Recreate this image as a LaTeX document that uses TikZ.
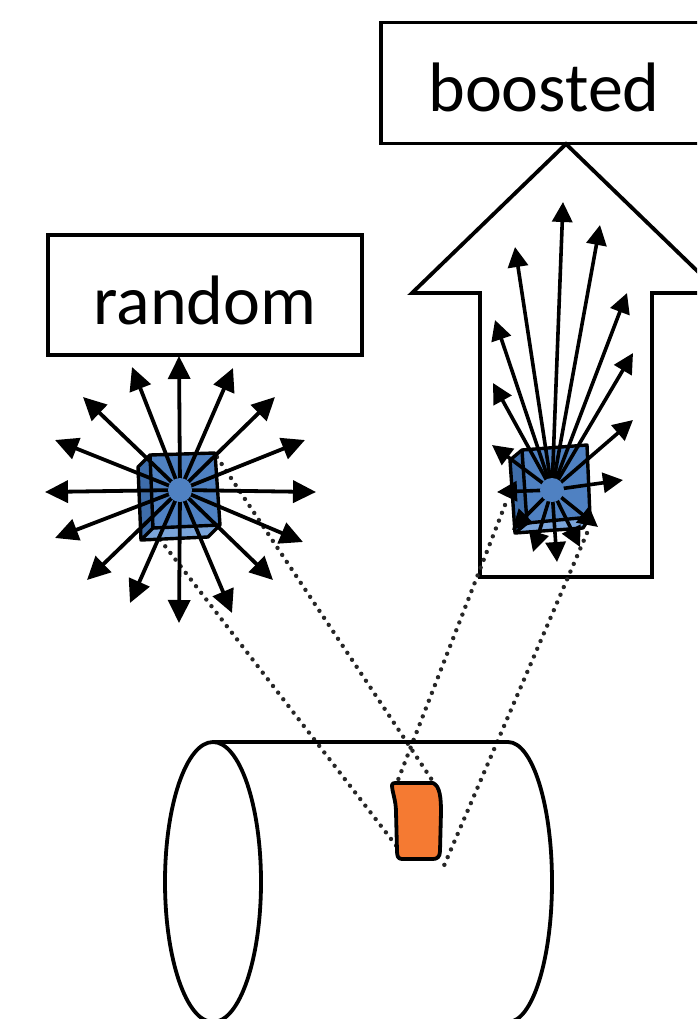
\documentclass[tikz,border=0pt]{standalone}
\usepackage{fontspec}
\setmainfont{Carlito}
\usetikzlibrary{arrows.meta}
\definecolor{facefront}{HTML}{4F81C2}
\definecolor{faceside}{HTML}{3E6DAA}
\definecolor{facebottom}{HTML}{7BA5DA}
\definecolor{patchorange}{HTML}{F57A32}
\begin{document}
\begin{tikzpicture}[x=1pt,y=-1pt,
  outline/.style={draw=black,line width=3.8pt,line join=miter},
  label box/.style={outline,rectangle,inner sep=0pt,fill=white,
    font=\fontsize{70}{80}\selectfont,text height=58pt,text depth=0pt},
  ray/.style={line width=3.8pt,-{Triangle[length=23pt,width=22pt]}},
  fanray/.style={line width=3.6pt,-{Triangle[length=20pt,width=20pt]}},
  cubeedge/.style={draw=black,line width=3.4pt,line join=round},
  sight/.style={line width=4.4pt,line cap=round,dash pattern=on 0pt off 8.4pt,black!85},
]
\useasboundingbox (0,0) rectangle (697,1019);
\clip (0,0) rectangle (697,1019);

% ---- labels ----
\node[label box,minimum width=314pt,minimum height=120pt] (random) at (205,295) {random};
\node[label box,minimum width=326pt,minimum height=121pt] (boosted) at (544,83) {boosted};

% ---- block arrow around the boosted emission ----
\coordinate (tip) at (566,144);
\draw[outline] (tip) -- (412,293) -- (480,293) -- (480,577) -- (652,577)
  -- (652,293) -- (720,293) -- cycle;

% ---- key points ----
\coordinate (rc) at (180,490);   % random source centre
\coordinate (bc) at (552,490);   % boosted source centre
\coordinate (rA) at (155,533);
\coordinate (rB) at (217,457);
\coordinate (bA) at (505,505);
\coordinate (bB) at (587,533);
\coordinate (pTL) at (398,780);
\coordinate (pTR) at (434,783);
\coordinate (pBL) at (398,848);
\coordinate (pBR) at (443,868);

% ---- lines of sight to the detector patch ----
\draw[sight] (rA) -- (pBL);
\draw[sight] (rB) -- (pTR);
\draw[sight] (bA) -- (pTL);
\draw[sight] (bB) -- (pBR);

% ---- random source: cube ----
\fill[facefront] (150,455) -- (215,453) -- (220,525) -- (153,528) -- cycle;
\fill[faceside] (150,455) -- (153,528) -- (141,540) -- (138,467) -- cycle;
\fill[facebottom] (153,528) -- (220,525) -- (208,537) -- (141,540) -- cycle;
\draw[cubeedge] (138,467) -- (150,455) -- (215,453) -- (220,525) -- (208,537)
  -- (141,540) -- cycle;
\draw[cubeedge] (150,455) -- (153,528) -- (220,525);
\draw[cubeedge] (153,528) -- (141,540);

% ---- random source: isotropic emission ----
\foreach \i/\x/\y in {1/179/356,2/233/368,3/275/397,4/305/440,5/316/492,
  6/303/542,7/273/580,8/232/613,9/179/623,10/130/603,11/87/580,12/55/538,
  13/45/492,14/55/440,15/83/397,16/132/367}{
  \coordinate (r\i) at (\x,\y);
  \draw[ray] (rc) -- (r\i);
}
\fill[facefront] (rc) circle (12);

% ---- boosted source: cube ----
\fill[facefront] (522,450) -- (587,445) -- (590,517) -- (527,523) -- cycle;
\fill[faceside] (522,450) -- (527,523) -- (515,533) -- (510,460) -- cycle;
\fill[facebottom] (527,523) -- (590,517) -- (583,528) -- (515,533) -- cycle;
\draw[cubeedge] (510,460) -- (522,450) -- (587,445) -- (590,517) -- (583,528)
  -- (515,533) -- cycle;
\draw[cubeedge] (522,450) -- (527,523) -- (590,517);
\draw[cubeedge] (527,523) -- (515,533);

% ---- boosted source: forward-peaked emission ----
\foreach \i/\x/\y in {1/563/202,2/600/225,3/515/247,4/627/293,5/495/320,
  6/633/353,7/493/383,8/633/420,9/492/445,10/623/480,11/497/492,12/512/530,
  13/533/552,14/557/562,15/580/547,16/598/527}{
  \coordinate (b\i) at (\x,\y);
  \draw[fanray] (bc) -- (b\i);
}
\fill[facefront] (bc) circle (12);

% ---- detector cylinder ----
\draw[outline] (213,882) ellipse [x radius=48,y radius=140];
\draw[outline] (213,742) -- (508,742) arc [start angle=-90,end angle=90,
  x radius=44,y radius=140] -- (213,1022);

% ---- hit patch ----
\draw[outline,line join=round,fill=patchorange]
  (392,785) .. controls (392,783) and (394,783) .. (396,783) -- (433,783)
  .. controls (440,786) and (441,798) .. (441,812) -- (440,851)
  .. controls (440,857) and (437,859) .. (433,859) -- (402,859)
  .. controls (398,859) and (397,856) .. (397,851) -- (396,812)
  .. controls (396,800) and (392,792) .. (392,785) -- cycle;
\end{tikzpicture}
\end{document}
